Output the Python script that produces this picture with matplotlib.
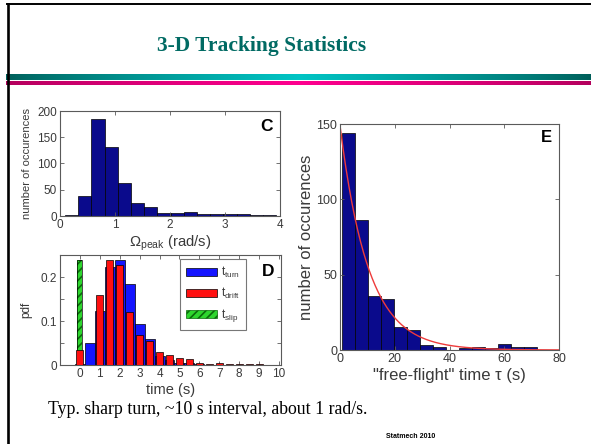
import numpy as np
import matplotlib
matplotlib.use("Agg")
import matplotlib.pyplot as plt
from matplotlib.lines import Line2D
from matplotlib.patches import Patch

# ---- data -------------------------------------------------------------
# Panel C: histogram of peak angular velocity
omega_edges_start = 0.09
omega_bin_width = 0.24
omega_counts = [2, 38, 184, 132, 62, 24, 18, 5, 5, 8, 3, 3, 3, 3, 2, 1]

# Panel D: pdfs of turn / drift / slip durations
time_centers = [0.0, 0.5, 1.0, 1.5, 2.0, 2.5, 3.0, 3.5, 4.0, 4.5,
                5.0, 5.5, 6.0, 6.5, 7.0, 7.5, 8.0, 8.5, 9.0, 9.5]
pdf_turn = [0.002, 0.049, 0.123, 0.222, 0.238, 0.184, 0.093, 0.058, 0.020, 0.011,
            0.005, 0.004, 0.002, 0.001, 0.001, 0.001, 0.001, 0.001, 0.0005, 0.0005]
pdf_drift = [0.035, 0.0, 0.159, 0.238, 0.227, 0.121, 0.068, 0.054, 0.030, 0.023,
             0.015, 0.013, 0.004, 0.003, 0.005, 0.002, 0.002, 0.002, 0.002, 0.001]
slip_center = [0.0]
pdf_slip = [0.238]
legend_labels = [r'$\mathregular{t_{turn}}$', r'$\mathregular{t_{drift}}$',
                 r'$\mathregular{t_{slip}}$']

# Panel E: free-flight time histogram and exponential fit
ff_edges_start = 0.6
ff_bin_width = 4.76
ff_counts = [144, 86, 36, 34, 15, 13, 3, 2, 0, 1, 2, 1, 4, 2, 2]
fit_amplitude = 149.0
fit_tau = 10.3

title = "3-D Tracking Statistics"
caption = "Typ. sharp turn, ~10 s interval, about 1 rad/s."
footer = "Statmech 2010"

# ---- style -------------------------------------------------------------
plt.rcParams['font.family'] = ['Liberation Sans', 'DejaVu Sans']
plt.rcParams['mathtext.fontset'] = 'custom'
plt.rcParams['mathtext.rm'] = 'Liberation Sans'
plt.rcParams['mathtext.it'] = 'Liberation Sans:italic'
plt.rcParams['hatch.linewidth'] = 1.2

TXT = '#3a3a3a'
SPINE = '#5a5a5a'
NAVY = '#0a0a8c'

W, H = 591, 444
fig = plt.figure(figsize=(W / 100, H / 100), dpi=100)
fig.patch.set_facecolor('white')


def px_axes(x0, y0, x1, y1):
    return fig.add_axes([x0 / W, 1 - y1 / H, (x1 - x0) / W, (y1 - y0) / H])


def matlab_style(ax, fs):
    for s in ax.spines.values():
        s.set_color(SPINE)
        s.set_linewidth(0.8)
    ax.tick_params(direction='in', length=3, width=0.6, color=SPINE,
                   top=True, right=True, labelsize=fs, labelcolor=TXT, pad=2)


# ---- slide decoration ---------------------------------------------------
fig.add_artist(Line2D([8 / W, 8 / W], [0, 1 - 4 / H], color='black', lw=1.9,
                      transform=fig.transFigure))
fig.add_artist(Line2D([7 / W, 1], [1 - 4.5 / H, 1 - 4.5 / H], color='black', lw=1.4,
                      transform=fig.transFigure))

band = fig.add_axes([6 / W, 1 - 85 / H, (W - 6) / W, 11 / H])
band.set_axis_off()
xs = np.linspace(0, 1, 400)
mid = 0.5
wgt = np.clip(1 - np.abs(xs - mid) / 0.5, 0, 1) ** 0.8
teal_dark = np.array([0.0, 0.37, 0.35])
teal_light = np.array([0.0, 0.77, 0.77])
mag_dark = np.array([0.70, 0.0, 0.36])
mag_light = np.array([1.0, 0.0, 0.56])
rows = []
for r in range(11):
    if r < 6:
        row = teal_dark[None, :] * (1 - wgt[:, None]) + teal_light[None, :] * wgt[:, None]
    elif r < 7:
        row = np.ones((len(xs), 3))
    else:
        row = mag_dark[None, :] * (1 - wgt[:, None]) + mag_light[None, :] * wgt[:, None]
    rows.append(row)
band.imshow(np.array(rows), aspect='auto', interpolation='bilinear')

fig.text(262 / W, 1 - 46 / H, title, family=['Liberation Serif', 'DejaVu Serif'],
         weight='bold', fontsize=15.5, color='#006a63', ha='center', va='center')
fig.text(48 / W, 1 - 414 / H, caption, family=['Liberation Serif', 'DejaVu Serif'],
         fontsize=12.8, color='black', ha='left', va='baseline')
fig.text(411 / W, 1 - 438 / H, footer, weight='bold', fontsize=5, color='black',
         ha='center', va='baseline')

# ---- panel C ------------------------------------------------------------
axc = px_axes(60, 111, 280, 216)
omega_left = [omega_edges_start + i * omega_bin_width for i in range(len(omega_counts))]
axc.bar(omega_left, omega_counts, width=omega_bin_width, align='edge',
        color=NAVY, edgecolor='black', linewidth=0.5)
axc.set_xlim(0, 4)
axc.set_ylim(0, 200)
axc.set_xticks([0, 1, 2, 3, 4])
axc.set_yticks([0, 50, 100, 150, 200])
matlab_style(axc, 8.5)
axc.set_ylabel('number of occurences', fontsize=8, color=TXT)
axc.yaxis.set_label_coords(-0.125, 0.5)
axc.set_xlabel(r'$\Omega_{\mathregular{peak}}$ (rad/s)', fontsize=10.7, color=TXT, labelpad=2)
axc.text(0.94, 0.85, 'C', transform=axc.transAxes, fontsize=12.5, weight='bold',
         ha='center', va='center', color='black')

# ---- panel D ------------------------------------------------------------
axd = px_axes(60, 255, 281, 365)
axd.bar(slip_center, pdf_slip, width=0.25, color='#2ed62e', edgecolor='#0a6a0a',
        hatch='////', linewidth=0, zorder=1)
axd.bar(slip_center, pdf_slip, width=0.25, fill=False, edgecolor='black',
        linewidth=0.5, zorder=1.1)
axd.bar(time_centers, pdf_turn, width=0.5, color='#1414ff', edgecolor='black',
        linewidth=0.5, zorder=2)
axd.bar(time_centers, pdf_drift, width=0.36, color='#ff1010', edgecolor='black',
        linewidth=0.5, zorder=3)
axd.set_xlim(-1, 10.1)
axd.set_ylim(0, 0.25)
axd.set_xticks(range(0, 11))
axd.set_yticks([0, 0.05, 0.1, 0.15, 0.2, 0.25])
axd.set_yticklabels(['0', '', '0.1', '', '0.2', ''])
matlab_style(axd, 8.5)
axd.set_ylabel('pdf', fontsize=8.5, color=TXT)
axd.yaxis.set_label_coords(-0.125, 0.5)
axd.set_xlabel('time (s)', fontsize=10.5, color=TXT, labelpad=2)
axd.text(0.94, 0.85, 'D', transform=axd.transAxes, fontsize=12.5, weight='bold',
         ha='center', va='center', color='black')
handles = [Patch(facecolor='#1414ff', edgecolor='black', linewidth=0.5),
           Patch(facecolor='#ff1010', edgecolor='black', linewidth=0.5),
           Patch(facecolor='#2ed62e', edgecolor='#0a6a0a', hatch='////', linewidth=0.5)]
leg = axd.legend(handles, legend_labels, loc='upper left', bbox_to_anchor=(0.545, 0.96),
                 fontsize=8.5, handlelength=2.6, handleheight=0.6, handletextpad=0.3,
                 labelspacing=0.5, borderpad=0.5, fancybox=False, framealpha=1,
                 edgecolor='#777777', borderaxespad=0)
leg.get_frame().set_linewidth(0.8)
for t in leg.get_texts():
    t.set_color(TXT)

# ---- panel E ------------------------------------------------------------
axe = px_axes(340, 124, 559, 350)
ff_left = [ff_edges_start + i * ff_bin_width for i in range(len(ff_counts))]
axe.bar(ff_left, ff_counts, width=ff_bin_width, align='edge', color=NAVY,
        edgecolor='black', linewidth=0.5)
tt = np.linspace(0, 80, 300)
axe.plot(tt, fit_amplitude * np.exp(-tt / fit_tau), color='#ee3b3b', lw=1.0)
axe.set_xlim(0, 80)
axe.set_ylim(0, 150)
axe.set_xticks([0, 20, 40, 60, 80])
axe.set_yticks([0, 50, 100, 150])
matlab_style(axe, 9)
axe.set_ylabel('number of occurences', fontsize=12, color=TXT)
axe.yaxis.set_label_coords(-0.12, 0.5)
axe.set_xlabel('"free-flight" time \u03c4 (s)', fontsize=12, color=TXT, labelpad=2)
axe.text(0.944, 0.94, 'E', transform=axe.transAxes, fontsize=12, weight='bold',
         ha='center', va='center', color='black')

fig.savefig('out.png', dpi=100, facecolor='white')
